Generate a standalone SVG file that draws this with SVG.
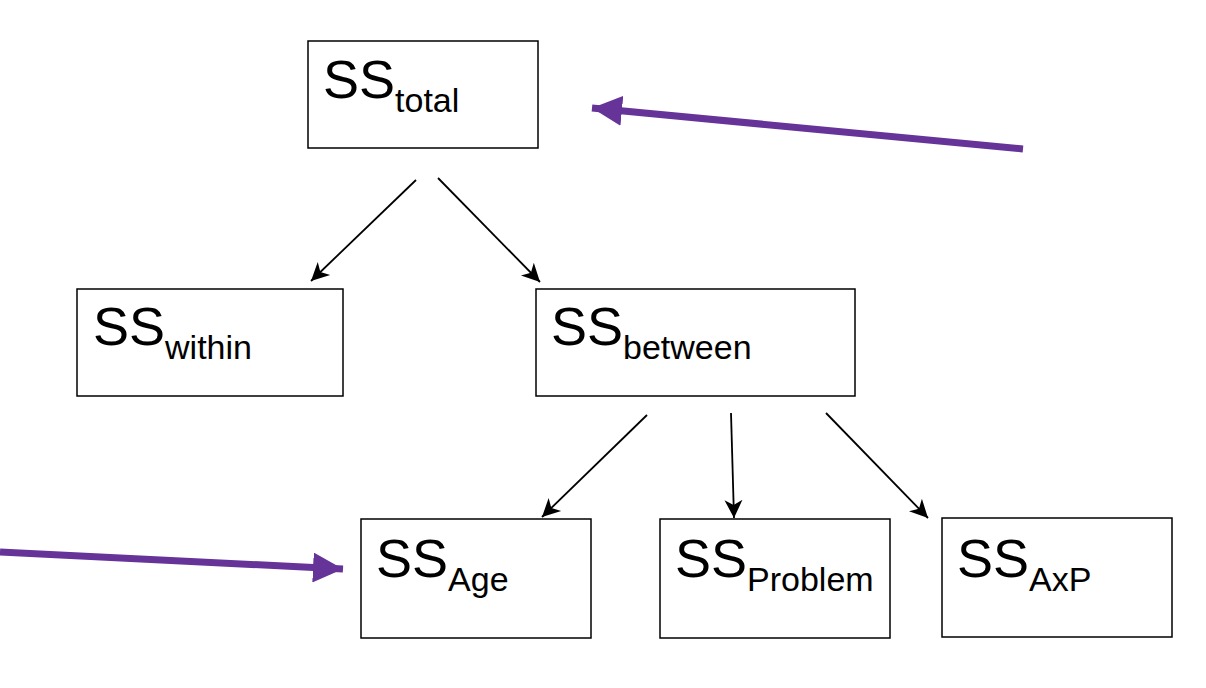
<svg xmlns="http://www.w3.org/2000/svg" width="1206" height="688" viewBox="0 0 1206 688">
<style>
.box{fill:#fff;stroke:#000;stroke-width:1.5}
.main{font-family:"Liberation Sans",Arial,sans-serif;font-size:54px;fill:#000}
.sub{font-size:34px}
.conn{stroke:#000;stroke-width:1.8;fill:none}
.purple{stroke:#663399;stroke-width:7;fill:none}
</style>
<defs>
<marker id="ah" markerUnits="userSpaceOnUse" markerWidth="22" markerHeight="22" refX="18" refY="9" orient="auto" viewBox="0 0 22 18">
<path d="M0,0 L18,9 L0,18 L5,9 Z" fill="#000"/>
</marker>
<marker id="ph" markerUnits="userSpaceOnUse" markerWidth="30" markerHeight="30" refX="26" refY="13" orient="auto" viewBox="0 0 26 26">
<path d="M0,0 L26,13 L0,26 Z" fill="#663399"/>
</marker>
</defs>
<g id="n-total"><rect class="box" x="308" y="41" width="230" height="107"/><text class="main" x="323" y="98">SS<tspan class="sub" dy="14">total</tspan></text></g>
<g id="n-within"><rect class="box" x="77" y="289" width="266" height="107"/><text class="main" x="93" y="345">SS<tspan class="sub" dy="14">within</tspan></text></g>
<g id="n-between"><rect class="box" x="536" y="289" width="319" height="107"/><text class="main" x="551" y="345">SS<tspan class="sub" dy="14">between</tspan></text></g>
<g id="n-age"><rect class="box" x="361" y="519" width="230" height="119"/><text class="main" x="376" y="577">SS<tspan class="sub" dy="14">Age</tspan></text></g>
<g id="n-problem"><rect class="box" x="660" y="519" width="230" height="119"/><text class="main" x="675" y="577">SS<tspan class="sub" dy="14">Problem</tspan></text></g>
<g id="n-axp"><rect class="box" x="942" y="518" width="230" height="119"/><text class="main" x="957" y="577">SS<tspan class="sub" dy="14">AxP</tspan></text></g>
<g id="connectors">
<line class="conn" x1="416" y1="180" x2="311" y2="281" marker-end="url(#ah)"/>
<line class="conn" x1="438" y1="178" x2="540" y2="282" marker-end="url(#ah)"/>
<line class="conn" x1="647" y1="415" x2="542" y2="517" marker-end="url(#ah)"/>
<line class="conn" x1="731" y1="413" x2="734" y2="518" marker-end="url(#ah)"/>
<line class="conn" x1="826" y1="413" x2="928" y2="518" marker-end="url(#ah)"/>
<line class="purple" x1="1023" y1="149" x2="592" y2="108" marker-end="url(#ph)"/>
<line class="purple" x1="0" y1="552" x2="343" y2="569" marker-end="url(#ph)"/>
</g>
</svg>
